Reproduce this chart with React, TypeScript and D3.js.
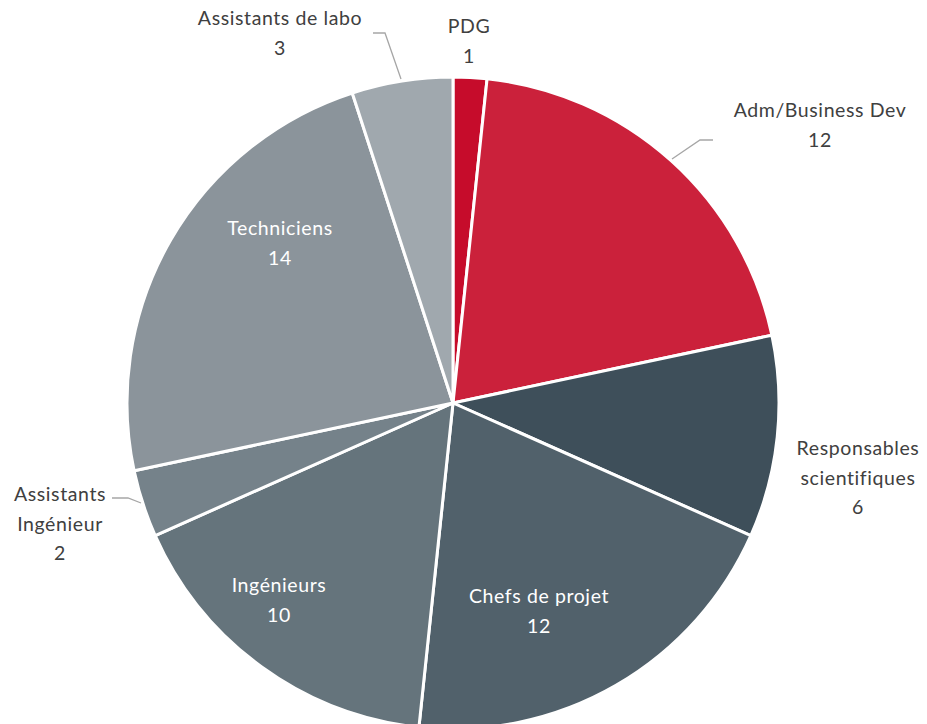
import React from "react";
import * as d3 from "d3";

const categories = ["PDG", "Adm/Business Dev", "Responsables scientifiques", "Chefs de projet", "Ingénieurs", "Assistants Ingénieur", "Techniciens", "Assistants de labo"];
const values = [1, 12, 6, 12, 10, 2, 14, 3];
const colors = ["#C60C2B", "#CB213B", "#3E4F5A", "#51616B", "#65747C", "#75828A", "#8B949B", "#A0A8AE"];
const labelLines = [["PDG"], ["Adm/Business Dev"], ["Responsables", "scientifiques"], ["Chefs de projet"], ["Ingénieurs"], ["Assistants", "Ingénieur"], ["Techniciens"], ["Assistants de labo"]];

const W = 927, H = 724;
const cx = 453, cy = 403, R = 326;
const LH = 29.5;

// label anchor (center x, first baseline y) per slice
const labelPos: [number, number][] = [
  [469, 33], [820, 117], [858, 455], [539, 603], [279, 592], [60, 501], [280, 235], [280, 25],
];
// leader lines
const leaders: Record<number, [number, number][]> = {
  1: [[672, 159], [700, 140], [713, 140]],
  5: [[112, 498], [128, 498], [141, 503]],
  7: [[373, 33], [385, 33], [401, 79]],
};

export default function App() {
  const pie = d3.pie<number>().sort(null).value((d) => d);
  const arcs = pie(values);
  const arc = d3.arc<d3.PieArcDatum<number>>().innerRadius(0).outerRadius(R);
  const line = d3.line();
  return (
    <svg width={W} height={H} style={{ position: "fixed", left: 0, top: 0, background: "#fff" }}
      fontFamily="Lato, 'Open Sans', sans-serif" fontSize={19.5} letterSpacing={0.6}>
      <g transform={`translate(${cx},${cy})`}>
        {arcs.map((a, i) => (
          <path key={i} d={arc(a) || ""} fill={colors[i]} stroke="#fff" strokeWidth={3} strokeLinejoin="round" />
        ))}
      </g>
      {Object.entries(leaders).map(([k, pts]) => (
        <path key={k} d={line(pts) || ""} fill="none" stroke="#A6A6A6" strokeWidth={1.3} />
      ))}
      {categories.map((c, i) => {
        const [x, y] = labelPos[i];
        const inside = i === 3 || i === 4 || i === 6;
        const fill = inside ? "#fff" : "#404040";
        const lines = [...labelLines[i], String(values[i])];
        return (
          <text key={c} x={x} y={y} textAnchor="middle" fill={fill}>
            {lines.map((t, j) => (
              <tspan key={j} x={x} y={y + j * LH}>{t}</tspan>
            ))}
          </text>
        );
      })}
    </svg>
  );
}
